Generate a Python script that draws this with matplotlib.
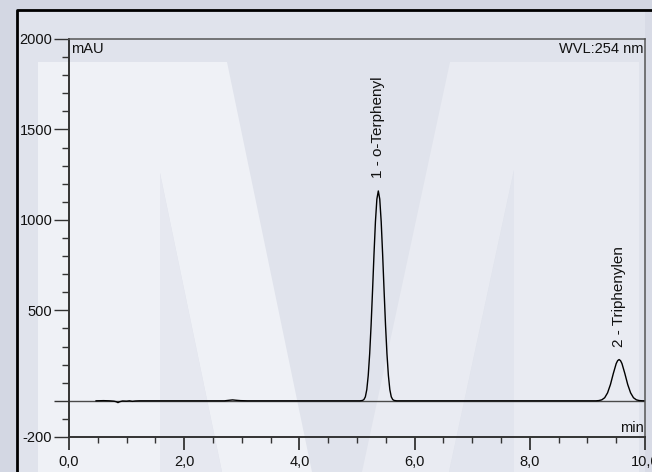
import matplotlib
matplotlib.use("Agg")
import matplotlib.pyplot as plt
from matplotlib.patches import Polygon
from matplotlib.lines import Line2D

plt.rcParams['font.family'] = ['Liberation Sans', 'DejaVu Sans']

# chromatogram trace (retention time in min, signal in mAU)
time_min = [0.47, 0.60, 0.70, 0.78, 0.82, 0.85, 0.88, 0.93, 1.00, 1.05, 1.10, 1.15, 1.22,
            1.30, 1.60, 2.00, 2.40, 2.70, 2.78, 2.84, 2.90, 2.98, 3.10, 3.60, 4.20, 4.80,
            5.05, 5.095, 5.12, 5.145, 5.17, 5.195, 5.22, 5.245, 5.27, 5.295, 5.32, 5.345,
            5.37, 5.395, 5.42, 5.445, 5.47, 5.495, 5.52, 5.545, 5.57, 5.595, 5.62, 5.645,
            5.69, 5.80, 6.20, 6.80, 7.40, 8.00, 8.60, 9.10, 9.15, 9.20, 9.25, 9.30, 9.35,
            9.40, 9.45, 9.50, 9.525, 9.55, 9.575, 9.60, 9.65, 9.70, 9.75, 9.80, 9.85, 9.90,
            9.95, 10.0]
signal_mau = [0, 1, 0, -2, -5, -10, -5, -1, -2, 0, -3, -1, 0,
              0, 0, 0, 0, 0, 3, 5, 3, 1, 0, 0, 0, 0,
              0, 2, 7, 22, 62, 140, 260, 420, 610, 810, 990, 1115,
              1160, 1115, 990, 810, 610, 420, 260, 140, 62, 22, 7, 2,
              0, 0, 0, 0, 0, 0, 0, 0, 0, 1.4, 5.5, 17, 44,
              90, 151, 206, 222, 228, 222, 206, 151, 90, 44, 17, 5.5, 1.4,
              0.3, 0]

peak_names = ['1 - o-Terphenyl', '2 - Triphenylen']
peak_times = [5.37, 9.55]
peak_heights = [1160, 228]

x_major = [0, 2, 4, 6, 8, 10]
x_labels = ['0,0', '2,0', '4,0', '6,0', '8,0', '10,0']
x_minor = [0.5, 1, 1.5, 2.5, 3, 3.5, 4.5, 5, 5.5, 6.5, 7, 7.5, 8.5, 9, 9.5]
y_major = [-200, 0, 500, 1000, 1500, 2000]
y_labels = ['-200', '', '500', '1000', '1500', '2000']
y_minor = [-100, 100, 200, 300, 400, 600, 700, 800, 900, 1100, 1200, 1300, 1400,
           1600, 1700, 1800, 1900]

W, H = 652, 472


def fx(px):
    return px / W


def fy(py):
    return 1 - py / H


def poly(pts, color):
    p = Polygon([(fx(a), fy(b)) for a, b in pts], closed=True, transform=fig.transFigure,
                facecolor=color, edgecolor='none', zorder=0)
    fig.add_artist(p)


fig = plt.figure(figsize=(W / 100, H / 100), dpi=100)
fig.patch.set_facecolor('#d3d7e3')

# background panel with the faint "M" watermark
poly([(17, 10), (652, 10), (652, 472), (17, 472)], '#e0e3ec')
poly([(38, 62), (227, 62), (312, 472), (222, 472), (160, 173), (160, 472), (38, 472)], '#eff1f6')
poly([(160, 173), (222, 472), (160, 472)], '#e6e8f0')
poly([(450, 62), (639, 62), (639, 472), (514, 472), (514, 170), (449, 472), (362, 472)], '#e9ebf2')
poly([(514, 170), (514, 472), (449, 472)], '#e2e5ee')
poly([(645, 10), (652, 10), (652, 472), (645, 472)], '#d8dbe6')

# outer black frame
fig.add_artist(Line2D([fx(17), fx(17), fx(652)], [fy(472), fy(10), fy(10)],
                      transform=fig.transFigure, color='black', lw=2))

ax = fig.add_axes([fx(69), fy(437), fx(645) - fx(69), fy(39) - fy(437)])
ax.set_facecolor('none')
ax.set_xlim(0, 10)
ax.set_ylim(-200, 2000)

ax.axhline(0, color='#4a4a4a', lw=1, zorder=1)
ax.plot(time_min, signal_mau, color='black', lw=1, zorder=2)

for name, t, h in zip(peak_names, peak_times, peak_heights):
    ax.annotate(name, xy=(t, h), xytext=(0, 9), textcoords='offset points',
                rotation=90, ha='center', va='bottom', fontsize=11, color='#111111')

ax.set_xticks(x_major)
ax.set_xticklabels(x_labels)
ax.set_xticks(x_minor, minor=True)
ax.set_yticks(y_major)
ax.set_yticklabels(y_labels)
ax.set_yticks(y_minor, minor=True)

ax.tick_params(axis='both', which='both', direction='out', colors='#333333', labelcolor='#111111',
               labelsize=10.5)
ax.tick_params(axis='x', which='major', length=9, width=1.3, pad=4)
ax.tick_params(axis='x', which='minor', length=4.5, width=1)
ax.tick_params(axis='y', which='major', length=11, width=1, pad=1)
ax.tick_params(axis='y', which='minor', length=5, width=1)

for side in ['left', 'bottom']:
    ax.spines[side].set_color('#333333')
    ax.spines[side].set_linewidth(1.4)
for side in ['top', 'right']:
    ax.spines[side].set_color('#555555')
    ax.spines[side].set_linewidth(1.1)

ax.text(0.003, 0.993, 'mAU', transform=ax.transAxes, ha='left', va='top', fontsize=10.5, color='#111111')
ax.text(0.998, 0.993, 'WVL:254 nm', transform=ax.transAxes, ha='right', va='top', fontsize=10.5,
        color='#111111')
ax.text(0.998, 0.006, 'min', transform=ax.transAxes, ha='right', va='bottom', fontsize=10.5,
        color='#111111')

fig.savefig('out.png', dpi=100, facecolor=fig.get_facecolor())
